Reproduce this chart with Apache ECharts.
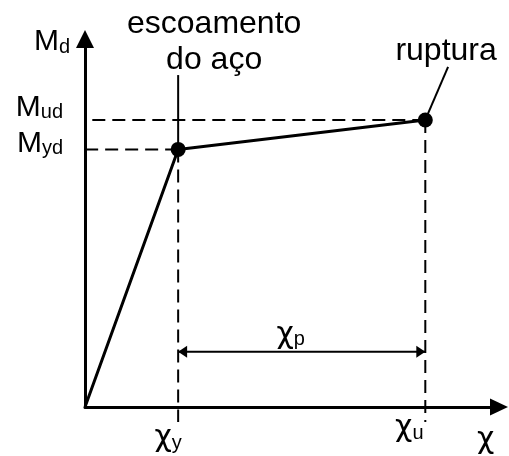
<!DOCTYPE html>
<html>
<head>
<meta charset="utf-8">
<script src="https://cdn.jsdelivr.net/npm/echarts@6/dist/echarts.min.js"></script>
<style>
  html, body { margin: 0; padding: 0; background: #fff; }
  #chart { width: 509px; height: 456px; }
</style>
</head>
<body>
<div id="chart"></div>
<script>
// Moment–curvature diagram (bilinear idealisation)
const FONT = '"Liberation Sans", Arial, sans-serif';
const GREEK = '"DejaVu Sans", sans-serif';

// curvature values (chi) and design moments, in diagram units
const chiY = 2.25;   // yield curvature
const chiU = 8.22;   // ultimate curvature
const mYd = 7.0;     // yield moment
const mUd = 7.8;     // ultimate moment

const curvePoints = [[0, 0], [chiY, mYd], [chiU, mUd]];
const keyPoints = [[chiY, mYd], [chiU, mUd]];
const plasticLevel = 1.5;           // height of the chi_p dimension line
const yieldNoteTop = 9.02;          // top of the "escoamento" leader
const ruptureNoteEnd = [8.77, 9.24]; // top of the "ruptura" leader
const dashOverhangX = -0.41;        // dashed guides extend past the axes
const dashOverhangY = -0.41;

const chart = echarts.init(document.getElementById('chart'));

const black = '#000';
const dashStyle = { color: black, width: 2, type: [13, 7] };

function guide(points) {
  return {
    type: 'line', data: points, symbol: 'none', clip: false, silent: true,
    lineStyle: dashStyle, z: 2
  };
}
function leader(points) {
  return {
    type: 'line', data: points, symbol: 'none', clip: false, silent: true,
    lineStyle: { color: black, width: 2 }, z: 3
  };
}

const sub = {
  m: { fontFamily: FONT, fontSize: 30, lineHeight: 30, verticalAlign: 'bottom', color: black },
  c: { fontFamily: GREEK, fontSize: 30, lineHeight: 30, verticalAlign: 'bottom', color: black },
  s: { fontFamily: FONT, fontSize: 20, lineHeight: 20, verticalAlign: 'bottom', color: black }
};

chart.setOption({
  animation: false,
  backgroundColor: '#fff',
  grid: { left: 85, right: 10, top: 39, bottom: 49 },
  xAxis: {
    type: 'value', min: 0, max: 10,
    axisLine: {
      show: true, onZero: false,
      lineStyle: { color: black, width: 3 },
      symbol: ['none', 'triangle'], symbolSize: [17, 18]
    },
    axisTick: { show: false }, axisLabel: { show: false }, splitLine: { show: false },
    name: 'χ', nameLocation: 'end', nameGap: -22,
    nameTextStyle: { fontFamily: GREEK, fontSize: 30, color: black, verticalAlign: 'top', padding: [18, 0, 0, 0] }
  },
  yAxis: {
    type: 'value', min: 0, max: 10,
    axisLine: {
      show: true, onZero: false,
      lineStyle: { color: black, width: 3 },
      symbol: ['none', 'triangle'], symbolSize: [18, 18]
    },
    axisTick: { show: false }, axisLabel: { show: false }, splitLine: { show: false },
    name: '{m|M}{s|d}', nameLocation: 'end', nameGap: -3,
    nameTextStyle: { align: 'right', verticalAlign: 'middle', padding: [0, 15, 0, 0], rich: sub }
  },
  series: [
    // dashed guides, drawn from each point out past the axes
    guide([[chiU, mUd], [dashOverhangX, mUd]]),
    guide([[chiY, mYd], [dashOverhangX, mYd]]),
    guide([[chiY, mYd], [chiY, dashOverhangY]]),
    guide([[chiU, mUd], [chiU, dashOverhangY]]),
    // leader lines for the annotations
    leader([[chiY, mYd], [chiY, yieldNoteTop]]),
    leader([[chiU, mUd], ruptureNoteEnd]),
    // bilinear M–chi curve
    {
      type: 'line', data: curvePoints, symbol: 'none', silent: true,
      lineStyle: { color: black, width: 3 }, z: 4
    },
    {
      type: 'scatter', data: keyPoints, symbol: 'circle', symbolSize: 15,
      itemStyle: { color: black, opacity: 1 }, silent: true, z: 5
    },
    // plastic curvature dimension chi_p
    {
      type: 'line', clip: false, silent: true, z: 4,
      lineStyle: { color: black, width: 2 },
      itemStyle: { color: black, opacity: 1 },
      symbolSize: [12, 9],
      data: [
        { value: [chiY, plasticLevel], symbol: 'triangle', symbolRotate: 90, symbolOffset: [4.5, 0] },
        { value: [chiU, plasticLevel], symbol: 'triangle', symbolRotate: -90, symbolOffset: [-4.5, 0] }
      ],
      markPoint: {
        symbol: 'circle', symbolSize: 0,
        data: [{
          coord: [(chiY + chiU) / 2, plasticLevel],
          label: { show: true, formatter: '{c|χ}{s|p}', position: 'top', distance: 2, offset: [-11, 0], rich: sub }
        }]
      }
    },
    // text annotations and axis value labels
    {
      type: 'scatter', symbol: 'circle', symbolSize: 0, silent: true, z: 6,
      itemStyle: { opacity: 1 },
      data: [
        {
          value: [chiY, yieldNoteTop],
          label: {
            show: true, position: 'top', offset: [36, 8], align: 'center',
            formatter: 'escoamento\ndo aço',
            fontFamily: FONT, fontSize: 32, lineHeight: 36, color: black
          }
        },
        {
          value: ruptureNoteEnd,
          label: {
            show: true, position: 'top', offset: [-2, 5],
            formatter: 'ruptura',
            fontFamily: FONT, fontSize: 32, color: black
          }
        },
        {
          value: [0, mUd],
          label: { show: true, position: 'left', distance: 22, offset: [0, -12], formatter: '{m|M}{s|ud}', rich: sub }
        },
        {
          value: [0, mYd],
          label: { show: true, position: 'left', distance: 22, offset: [0, -6], formatter: '{m|M}{s|yd}', rich: sub }
        },
        {
          value: [chiY, 0],
          label: { show: true, position: 'bottom', distance: 16, offset: [-10, 0], formatter: '{c|χ}{s|y}', rich: sub }
        },
        {
          value: [chiU, 0],
          label: { show: true, position: 'bottom', distance: 6, offset: [-16, 0], formatter: '{c|χ}{s|u}', rich: sub }
        }
      ]
    }
  ]
});
</script>
</body>
</html>
